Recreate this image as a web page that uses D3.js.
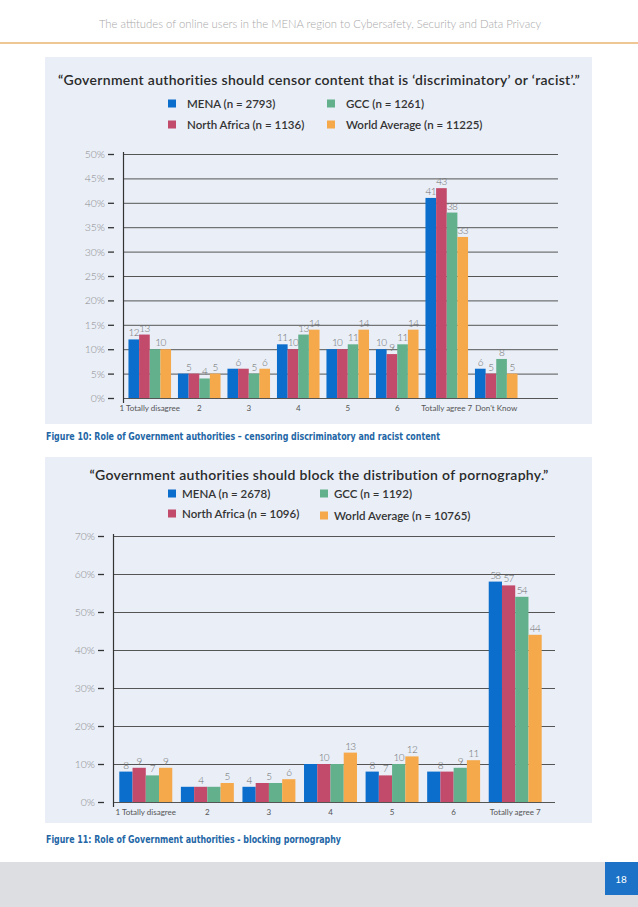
<!DOCTYPE html>
<html><head><meta charset="utf-8">
<script src="https://cdn.jsdelivr.net/npm/d3@7"></script>
<style>body{margin:0;background:#fff}svg{display:block}</style>
</head><body>
<svg id="c" width="638" height="907"></svg>
<script>
// ---------- DATA ----------
const headerText = "The attitudes of online users in the MENA region to Cybersafety, Security and Data Privacy";

const title1 = "“Government authorities should censor content that is ‘discriminatory’ or ‘racist’.”";
const categories1 = ["1 Totally disagree", "2", "3", "4", "5", "6", "Totally agree 7", "Don't Know"];
const seriesNames1 = ["MENA (n = 2793)", "North Africa (n = 1136)", "GCC (n = 1261)", "World Average (n = 11225)"];
const mena1        = [12, 5, 6, 11, 10, 10, 41, 6];
const northAfrica1 = [13, 5, 6, 10, 10, 9, 43, 5];
const gcc1         = [10, 4, 5, 13, 11, 11, 38, 8];
const world1       = [10, 5, 6, 14, 14, 14, 33, 5];
const yTicks1 = [0, 5, 10, 15, 20, 25, 30, 35, 40, 45, 50];
const caption1 = "Figure 10: Role of Government authorities – censoring discriminatory and racist content";

const title2 = "“Government authorities should block the distribution of pornography.”";
const categories2 = ["1 Totally disagree", "2", "3", "4", "5", "6", "Totally agree 7"];
const seriesNames2 = ["MENA (n = 2678)", "North Africa (n = 1096)", "GCC (n = 1192)", "World Average (n = 10765)"];
const mena2        = [8, 4, 4, 10, 8, 8, 58];
const northAfrica2 = [9, 4, 5, 10, 7, 8, 57];
const gcc2         = [7, 4, 5, 10, 10, 9, 54];
const world2       = [9, 5, 6, 13, 12, 11, 44];
const yTicks2 = [0, 10, 20, 30, 40, 50, 60, 70];
const caption2 = "Figure 11: Role of Government authorities - blocking pornography";

const pageNumber = "18";

const colors = ["#0b6dcc", "#c24a6a", "#63b08c", "#f6a94b"];

// ---------- DRAW ----------
const svg = d3.select("#c");
const F = "Lato, 'Open Sans', 'DejaVu Sans', sans-serif";

svg.append("text").attr("x", 320).attr("y", 28).attr("text-anchor", "middle")
  .attr("font-family", F).attr("font-weight", 300).attr("font-size", 11.3)
  .attr("fill", "#a8a8a8").text(headerText);
svg.append("rect").attr("x", 0).attr("y", 42).attr("width", 638).attr("height", 2).attr("fill", "#efc794");

function drawChart(cfg) {
  const g = svg.append("g");
  g.append("rect").attr("x", 45).attr("y", cfg.panelTop).attr("width", 547)
    .attr("height", cfg.panelBottom - cfg.panelTop).attr("fill", "#e9eef7");

  g.append("text").attr("x", 319).attr("y", cfg.titleY).attr("text-anchor", "middle")
    .attr("font-family", F).attr("font-weight", 600).attr("font-size", 14)
    .attr("letter-spacing", 0.3).attr("fill", "#2a2a2a").text(cfg.title);

  // legend: col1 = MENA, North Africa ; col2 = GCC, World
  const legendPos = [[0, 0], [0, 1], [1, 0], [1, 1]];
  cfg.names.forEach((n, i) => {
    const [c, r] = legendPos[i];
    const lx = cfg.legendX[c], ly = cfg.legendY[r] + (i === 3 ? cfg.worldDy : 0);
    g.append("rect").attr("x", lx).attr("y", ly - 4.5).attr("width", 8).attr("height", 8).attr("fill", colors[i]);
    g.append("text").attr("x", lx + cfg.legendGap).attr("y", ly + 4)
      .attr("font-family", F).attr("font-weight", 600).attr("font-size", 11.5)
      .attr("fill", "#333").text(n);
  });

  const y = d3.scaleLinear().domain([0, d3.max(cfg.ticks)]).range([cfg.y0, cfg.y1]);
  const x0 = d3.scaleBand().domain(cfg.categories).range(cfg.xRange)
    .paddingInner(cfg.padIn).paddingOuter(cfg.padOut);
  const x1 = d3.scaleBand().domain(d3.range(4)).range([0, x0.bandwidth()]);

  // gridlines
  g.selectAll(".grid").data(cfg.ticks).join("line")
    .attr("x1", cfg.axisX).attr("x2", cfg.gridEnd)
    .attr("y1", d => y(d) + 0.5).attr("y2", d => y(d) + 0.5)
    .attr("stroke", "#555").attr("stroke-width", 1);
  // tick dashes & labels
  g.selectAll(".tk").data(cfg.ticks).join("line")
    .attr("x1", cfg.axisX - 15).attr("x2", cfg.axisX - 9)
    .attr("y1", d => y(d) + 0.5).attr("y2", d => y(d) + 0.5)
    .attr("stroke", "#333").attr("stroke-width", 1.3);
  g.selectAll(".tl").data(cfg.ticks).join("text")
    .attr("x", cfg.axisX - 18).attr("y", d => y(d) + 4)
    .attr("text-anchor", "end").attr("font-family", F).attr("font-weight", 300)
    .attr("font-size", 10.5).attr("fill", "#8c8c8c").text(d => d + "%");
  // axis
  g.append("line").attr("x1", cfg.axisX + 0.5).attr("x2", cfg.axisX + 0.5)
    .attr("y1", cfg.y1 - 2).attr("y2", cfg.y0 + 5).attr("stroke", "#333").attr("stroke-width", 1.2);

  // bars
  const groups = g.selectAll(".grp").data(cfg.categories.map((c, ci) => ({c, vals: cfg.series.map(s => s[ci])})))
    .join("g").attr("transform", d => `translate(${x0(d.c)},0)`);
  groups.selectAll("rect").data(d => d.vals).join("rect")
    .attr("x", (v, i) => x1(i)).attr("width", x1.bandwidth())
    .attr("y", v => y(v)).attr("height", v => cfg.y0 - y(v))
    .attr("fill", (v, i) => colors[i]);

  // value labels: consecutive equal values share one centred label
  groups.each(function(d) {
    const runs = [];
    d.vals.forEach((v, i) => {
      const last = runs[runs.length - 1];
      if (last && last.v === v) last.end = i; else runs.push({v, start: i, end: i});
    });
    d3.select(this).selectAll("text.v").data(runs).join("text")
      .attr("x", r => (x1(r.start) + x1(r.end) + x1.bandwidth()) / 2)
      .attr("y", r => y(r.v) - 3)
      .attr("text-anchor", "middle").attr("font-family", F).attr("font-weight", 300)
      .attr("font-size", 10).attr("letter-spacing", -0.6)
      .attr("fill", "#6e6e6e").text(r => r.v);
  });

  // x labels
  g.selectAll(".xl").data(cfg.categories).join("text")
    .attr("x", d => x0(d) + x0.bandwidth() / 2).attr("y", cfg.xLabelY)
    .attr("text-anchor", "middle").attr("font-family", F).attr("font-size", 8)
    .attr("fill", "#555").text(d => d);

  svg.append("text").attr("x", 46).attr("y", cfg.captionY)
    .attr("font-family", "'DejaVu Sans Condensed', 'Liberation Sans', sans-serif")
    .attr("font-weight", 700).attr("font-size", 10.5).attr("fill", "#2366a6")
    .attr("textLength", cfg.captionLen).attr("lengthAdjust", "spacingAndGlyphs")
    .text(cfg.caption);
}

drawChart({
  panelTop: 57, panelBottom: 424, title: title1, titleY: 85,
  names: seriesNames1, legendX: [168, 327], legendY: [104, 125], legendGap: 19, worldDy: 0,
  series: [mena1, northAfrica1, gcc1, world1], categories: categories1, ticks: yTicks1,
  y0: 398, y1: 154, xRange: [125, 521], padIn: 0.14, padOut: 0.07,
  axisX: 123, gridEnd: 558, xLabelY: 411, caption: caption1, captionY: 440, captionLen: 394
});

drawChart({
  panelTop: 457, panelBottom: 823, title: title2, titleY: 480,
  names: seriesNames2, legendX: [168, 320], legendY: [494, 514], legendGap: 14, worldDy: 2,
  series: [mena2, northAfrica2, gcc2, world2], categories: categories2, ticks: yTicks2,
  y0: 802, y1: 536, xRange: [115, 546], padIn: 0.14, padOut: 0.07,
  axisX: 113, gridEnd: 555, xLabelY: 815, caption: caption2, captionY: 843, captionLen: 295
});

// footer
svg.append("rect").attr("x", 0).attr("y", 862).attr("width", 638).attr("height", 45).attr("fill", "#dcdee1");
svg.append("rect").attr("x", 605).attr("y", 862).attr("width", 33).attr("height", 33).attr("fill", "#1b72c6");
svg.append("text").attr("x", 621).attr("y", 883).attr("text-anchor", "middle")
  .attr("font-family", F).attr("font-size", 10).attr("fill", "#fff").text(pageNumber);
</script>
</body></html>
